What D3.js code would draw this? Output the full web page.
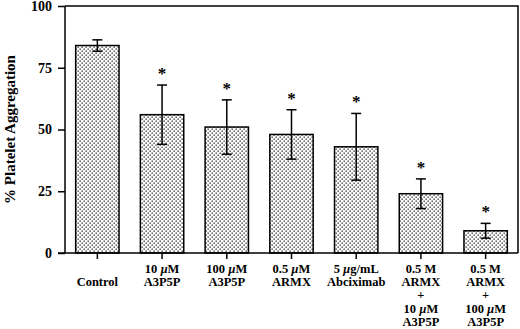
<!DOCTYPE html>
<html>
<head>
<meta charset="utf-8">
<script src="https://cdn.jsdelivr.net/npm/d3@7"></script>
<style>
  body { margin: 0; background: #fff; }
  svg { display: block; }
  text { font-family: "Liberation Serif", "Times New Roman", serif; font-weight: bold; fill: #000; }
</style>
</head>
<body>
<svg id="chart" width="520" height="329"></svg>
<script>
// 数据
const groups = ["ctl", "a10", "a100", "armx", "abc", "mix10", "mix100"];
const means = [84, 56, 51, 48, 43, 24, 9];
const errs = [2.3, 12, 11, 10, 13.5, 6, 3];
const starred = [false, true, true, true, true, true, true];
// 每行标签，"µ" 用斜体
const labelLines = [
    ["Control"],
    ["10 µM", "A3P5P"],
    ["100 µM", "A3P5P"],
    ["0.5 µM", "ARMX"],
    ["5 µg/mL", "Abciximab"],
    ["0.5 M", "ARMX", "+", "10 µM", "A3P5P"],
    ["0.5 M", "ARMX", "+", "100 µM", "A3P5P"]
];
const yTicks = [0, 25, 50, 75, 100];

const svg = d3.select("#chart");
const margin = { top: 6, right: 2, bottom: 76, left: 65 };
const width = 520 - margin.left - margin.right;
const height = 329 - margin.top - margin.bottom;

// 点状填充
const defs = svg.append("defs");
const pat = defs.append("pattern")
    .attr("id", "dots")
    .attr("patternUnits", "userSpaceOnUse")
    .attr("width", 4).attr("height", 4);
pat.append("rect").attr("width", 4).attr("height", 4).attr("fill", "#fff");
pat.append("rect").attr("x", 0.5).attr("y", 0.5).attr("width", 1.3).attr("height", 1.3).attr("fill", "#222");
pat.append("rect").attr("x", 2.5).attr("y", 2.5).attr("width", 1.3).attr("height", 1.3).attr("fill", "#222");

const chart = svg.append("g")
    .attr("transform", `translate(${margin.left},${margin.top})`);

const x = d3.scaleBand()
    .domain(groups)
    .range([0, width])
    .paddingInner(0.33)
    .paddingOuter(0.165);

const y = d3.scaleLinear()
    .domain([0, 100])
    .range([height, 0]);

// 边框（上、右）
chart.append("path")
    .attr("d", `M0,0H${width}V${height}`)
    .attr("fill", "none")
    .attr("stroke", "#000")
    .attr("stroke-width", 1.5);

// 柱子
chart.selectAll("rect.bar")
    .data(groups)
    .join("rect")
    .attr("class", "bar")
    .attr("x", d => x(d))
    .attr("y", (d, i) => y(means[i]))
    .attr("width", x.bandwidth())
    .attr("height", (d, i) => y(0) - y(means[i]))
    .attr("fill", "url(#dots)")
    .attr("stroke", "#000")
    .attr("stroke-width", 1.5);

// 误差线
const cap = 5;
const eb = chart.selectAll("g.err")
    .data(groups)
    .join("g")
    .attr("class", "err")
    .attr("transform", d => `translate(${x(d) + x.bandwidth() / 2},0)`);
eb.append("line")
    .attr("y1", (d, i) => y(means[i] - errs[i]))
    .attr("y2", (d, i) => y(means[i] + errs[i]))
    .attr("stroke", "#000").attr("stroke-width", 1.5);
eb.append("line")
    .attr("x1", -cap).attr("x2", cap)
    .attr("y1", (d, i) => y(means[i] + errs[i]))
    .attr("y2", (d, i) => y(means[i] + errs[i]))
    .attr("stroke", "#000").attr("stroke-width", 1.5);
eb.append("line")
    .attr("x1", -cap).attr("x2", cap)
    .attr("y1", (d, i) => y(means[i] - errs[i]))
    .attr("y2", (d, i) => y(means[i] - errs[i]))
    .attr("stroke", "#000").attr("stroke-width", 1.5);

// 星号
chart.selectAll("text.star")
    .data(groups.filter((d, i) => starred[i]))
    .join("text")
    .attr("class", "star")
    .attr("x", d => x(d) + x.bandwidth() / 2)
    .attr("y", d => {
        const i = groups.indexOf(d);
        return y(means[i] + errs[i]) - 6;
    })
    .attr("text-anchor", "middle")
    .attr("fill", "#000")
    .style("font-size", "17px")
    .text("*");

// Y 轴
const yAxis = chart.append("g")
    .call(d3.axisLeft(y).tickValues(yTicks).tickSize(7).tickPadding(6));
yAxis.select(".domain").attr("stroke-width", 1.5).attr("d", `M0,${height}V0`);
yAxis.selectAll(".tick line").attr("stroke-width", 1.5);
yAxis.selectAll(".tick text")
    .attr("fill", "#000")
    .style("font-family", "Liberation Serif, serif")
    .style("font-weight", "bold")
    .style("font-size", "14px");

// X 轴
const xAxis = chart.append("g")
    .attr("transform", `translate(0,${height})`)
    .call(d3.axisBottom(x).tickSize(6).tickFormat(""));
xAxis.select(".domain").attr("stroke-width", 1.5).attr("d", `M-7,0H${width}`);
xAxis.selectAll(".tick line").attr("stroke-width", 1.5);

// X 标签：每行一个 text
const lineH = 13.4;
groups.forEach((g, i) => {
    const lines = labelLines[i];
    const y0 = height + (lines.length === 1 ? 33 : 19.5);
    lines.forEach((ln, j) => {
        const t = chart.append("text")
            .attr("x", x(g) + x.bandwidth() / 2)
            .attr("y", y0 + j * lineH)
            .attr("text-anchor", "middle")
            .style("font-size", "12.5px");
        ln.split("µ").forEach((p, k) => {
            if (k > 0) t.append("tspan").style("font-style", "italic").text("µ");
            t.append("tspan").text(p);
        });
    });
});

// Y 轴标题
svg.append("text")
    .attr("transform", `translate(15,${margin.top + height / 2}) rotate(-90)`)
    .attr("text-anchor", "middle")
    .style("font-size", "15px")
    .text("%  Platelet Aggregation");
</script>
</body>
</html>
